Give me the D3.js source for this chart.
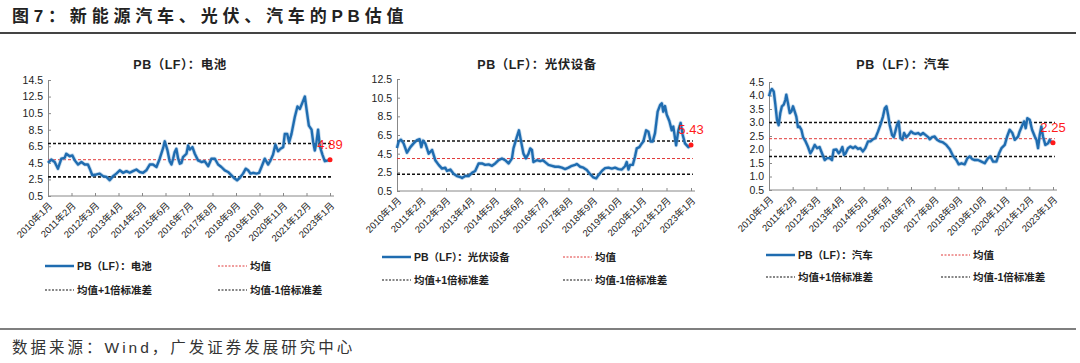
<!DOCTYPE html>
<html>
<head>
<meta charset="utf-8">
<script src="https://cdn.jsdelivr.net/npm/d3@7"></script>
<style>
  body { margin: 0; background: #fff; }
  svg { display: block; }
</style>
</head>
<body>
<div id="chart"></div>
<script>
// month offsets are counted from 2010年1月
const xTickMonths = [0, 13, 26, 39, 52, 65, 78, 91, 104, 117, 130, 143, 156];
const xTickLabels = ["2010年1月", "2011年2月", "2012年3月", "2013年4月", "2014年5月", "2015年6月",
  "2016年7月", "2017年8月", "2018年9月", "2019年10月", "2020年11月", "2021年12月", "2023年1月"];

// 电池
const batteryMonth = [0,1.8,3.7,5.5,7.4,9.2,10.1,12,13.5,14.8,16.6,18.5,20.3,22.1,23.1,24.5,26.8,28.6,30.4,32.3,
  34.1,36,37.8,39.7,41.5,43.4,45.2,47,48.9,50.7,52.6,54.4,56.3,58.1,60,61.8,63.7,64.6,66.1,67.3,
  68.3,69.2,70.1,71,72,72.9,73.8,74.7,76.6,77.5,78.4,79.9,81.2,83,84.9,86.7,88.6,90.4,92.3,94.1,
  95.9,97.8,99.6,101.5,103.3,104.6,106.1,107.9,109.4,110.7,112,113.5,115.3,116.8,118.1,119.9,121.8,123.1,124.5,125.8,
  127.3,128.6,130.1,131,132.3,133.4,134.7,136.5,138,139.3,140.8,142.1,143,144.3,145.8,146.7,147.6,148.5,149.4,150.4,
  151.8,153.1,155,156];
const batteryPB = [4.5,4.9,4.6,3.8,5.0,5.1,5.6,5.3,5.4,4.8,4.3,4.6,4.3,4.3,3.8,3.0,3.1,3.2,2.9,2.8,
  2.4,2.9,3.2,3.6,3.3,3.5,3.3,3.5,3.7,3.4,3.3,3.6,4.3,4.3,4.0,5.0,6.3,7.1,6.0,4.7,
  4.3,5.0,5.8,6.2,5.0,4.4,4.5,5.2,5.6,6.6,6.1,6.4,5.6,4.8,4.6,4.7,4.1,5.0,5.0,4.3,
  4.0,3.6,3.4,3.0,2.6,2.4,2.7,3.2,3.8,3.6,3.2,3.3,3.2,3.3,4.0,5.0,4.3,4.8,5.5,6.7,
  5.9,6.2,6.4,8.0,8.0,7.0,8.0,10.0,11.3,11.0,11.8,12.5,11.0,9.0,8.5,7.0,6.0,7.0,8.5,6.5,
  5.5,4.7,4.8,4.89];
const batteryRef = [6.84, 4.88, 2.81]; // 均值+1倍标准差, 均值, 均值-1倍标准差
const batteryTicks = [0.5, 2.5, 4.5, 6.5, 8.5, 10.5, 12.5, 14.5];

// 光伏设备
const solarMonth = [0,0.9,2.1,3.5,5.3,7.1,8.8,10.6,12,12.9,13.8,15,16.8,18.6,20.3,22.1,23.9,25.6,26.5,28.3,
  30,31.8,33.6,34.5,36.2,38,39.8,41.5,43.3,45.1,46.8,48.6,50.4,52.1,53.9,55.7,57.4,59.2,61,61.8,
  63.6,64.7,65.7,67.1,68.4,69.8,70.7,71.6,72.4,74.2,76,77.4,78.6,80.4,82.2,83.9,85.7,87.5,89.2,91,
  92.8,94.5,95.4,97.2,98.9,100.7,102.5,104.2,105.7,106.9,108.7,110.4,112.2,114,115.7,117.5,119.3,121,121.9,122.8,
  123.7,125.1,126.3,127.2,128.6,129.9,130.7,132.2,133.4,134.6,135.7,136.9,138.3,139.6,140.5,141.3,142.2,143.1,144.5,145.8,
  146.6,148.1,149.3,150.5,151.6,152.8,154.6,156];
const solarPB = [5.1,5.8,6.0,5.6,4.6,5.2,5.6,5.95,6.05,5.2,5.9,5.6,4.5,4.9,3.8,3.3,2.9,3.0,2.65,2.8,
  2.35,2.1,2.0,1.9,2.1,2.1,2.45,2.65,3.45,3.45,3.3,3.35,3.2,3.45,3.8,3.98,3.8,3.45,4.0,5.06,
  6.3,7.0,5.95,4.5,4.0,4.5,5.06,4.9,3.6,3.8,3.7,3.8,3.6,3.3,3.2,3.1,3.1,3.0,2.85,3.0,
  3.2,3.3,3.4,3.1,3.0,2.75,2.3,1.95,1.85,2.2,2.65,2.95,3.0,2.9,3.0,2.85,2.8,3.15,3.6,2.8,
  3.3,3.3,4.2,5.06,5.2,5.6,5.8,7.0,6.85,5.8,5.8,6.7,9.0,9.7,9.9,9.0,9.6,8.7,8.0,7.0,
  7.4,5.4,7.0,7.8,6.5,5.6,5.2,5.43];
const solarRef = [5.85, 3.98, 2.3];
const solarTicks = [0.5, 2.5, 4.5, 6.5, 8.5, 10.5, 12.5];

// 汽车
const autoMonth = [0,0.7,1.6,2.6,3.5,4.4,5.3,6.2,7.1,8.1,9,9.5,10.4,11.4,12.3,13.2,14.1,15,15.9,16.8,
  17.8,18.7,20.1,21.4,22.7,23.8,25.1,26.4,27.8,29.1,30.6,31.9,33.3,34.6,35.5,37,38.3,39.2,40.3,41.2,
  42.1,43.4,44.7,46.2,47.4,48.9,50.2,51.6,52.9,54.4,55.7,57.1,58.4,59.9,61.2,62.6,63.6,64.5,65.4,66.3,
  67.6,68.5,69.4,70.3,71.2,72.2,73.3,74.2,75.5,76.7,78,79.1,80.4,81.9,83.2,84.6,85.9,87.4,88.3,89.6,
  91,92.3,93.8,95.6,97.4,99.3,101.1,102.9,104.2,105.7,107.5,109,110.3,111.7,113,114.8,116.7,118.5,120.3,121.6,
  123.1,124.9,126.4,127.7,129.5,130.8,132.2,133.7,135,136.8,137.7,139.2,140.1,141,141.9,143.2,144.5,146,146.9,147.8,
  148.7,149.6,150.5,151.8,153.3,154.2,155.1,156];
const autoPB = [3.97,4.15,4.24,4.15,3.66,3.1,2.9,3.35,3.6,3.66,3.84,4.03,3.72,3.35,3.41,3.6,3.41,3.22,2.83,2.85,
  2.73,2.46,2.3,2.1,1.86,1.98,2.17,2.05,2.09,1.86,1.61,1.68,1.68,1.61,1.98,2.0,1.86,1.93,2.09,1.8,
  1.86,2.05,2.11,2.05,2.11,2.02,2.05,1.93,2.05,2.3,2.3,2.38,2.42,2.67,2.91,3.22,3.53,3.6,3.29,2.91,
  2.54,2.46,2.67,2.91,3.04,2.42,2.36,2.61,2.46,2.54,2.67,2.61,2.58,2.61,2.54,2.61,2.54,2.46,2.38,2.46,
  2.48,2.36,2.3,2.26,2.17,2.01,1.76,1.61,1.45,1.49,1.45,1.68,1.74,1.64,1.61,1.61,1.55,1.49,1.68,1.74,
  1.55,1.55,1.86,2.05,2.17,2.48,2.73,2.61,2.36,2.48,2.67,2.91,3.04,2.79,3.16,3.1,2.73,2.48,2.36,2.05,
  2.54,2.85,2.48,2.17,2.23,2.36,2.26,2.25];
const autoRef = [3.0, 2.4, 1.74];
const autoTicks = [0.5, 1.0, 1.5, 2.0, 2.5, 3.0, 3.5, 4.0, 4.5];

const W = 1080, H = 363;
const lineBlue = "#1f6cb0";
const fontLatin = "'Liberation Sans', Arial, 'Noto Sans CJK SC', sans-serif";

const svg = d3.select("#chart").append("svg")
  .attr("width", W)
  .attr("height", H)
  .style("font-family", fontLatin);

// header
svg.append("text")
  .attr("x", 12)
  .attr("y", 22)
  .attr("font-size", 17)
  .attr("font-weight", "bold")
  .attr("letter-spacing", 4.8)
  .attr("fill", "#222")
  .text("图7：新能源汽车、光伏、汽车的PB估值");

svg.append("line")
  .attr("x1", 0).attr("x2", 1076)
  .attr("y1", 33).attr("y2", 33)
  .attr("stroke", "#444").attr("stroke-width", 2);

// footer
svg.append("line")
  .attr("x1", 0).attr("x2", 1076)
  .attr("y1", 329).attr("y2", 329)
  .attr("stroke", "#555").attr("stroke-width", 1.5);

svg.append("text")
  .attr("x", 12)
  .attr("y", 353)
  .attr("font-size", 15.5)
  .attr("letter-spacing", 3)
  .attr("fill", "#333")
  .text("数据来源：Wind，广发证券发展研究中心");

const panels = [
  {name: "电池", month: batteryMonth, pb: batteryPB, ref: batteryRef, ticks: batteryTicks, fmt: ".1f",
   left: 48, right: 330, top: 80, bottom: 196, titleX: 180,
   legX: 45, legX2: 218, legY: 266, legY2: 290},
  {name: "光伏设备", month: solarMonth, pb: solarPB, ref: solarRef, ticks: solarTicks, fmt: ".1f",
   left: 397, right: 691, top: 79, bottom: 191, titleX: 537,
   legX: 382, legX2: 563, legY: 257, legY2: 280},
  {name: "汽车", month: autoMonth, pb: autoPB, ref: autoRef, ticks: autoTicks, fmt: ".1f",
   left: 769, right: 1053, top: 82, bottom: 190, titleX: 903,
   legX: 766, legX2: 941, legY: 255, legY2: 277}
];

panels.forEach(function(p) {
  const g = svg.append("g");

  const x = d3.scaleLinear().domain([0, 156]).range([p.left, p.right]);
  const y = d3.scaleLinear()
    .domain([p.ticks[0], p.ticks[p.ticks.length - 1]])
    .range([p.bottom, p.top]);

  // title
  g.append("text")
    .attr("x", p.titleX)
    .attr("y", 69)
    .attr("text-anchor", "middle")
    .attr("font-size", 12.5)
    .attr("font-weight", "bold")
    .attr("letter-spacing", 0.5)
    .attr("fill", "#222")
    .text("PB（LF）：" + p.name);

  // y axis
  const yAxis = g.append("g")
    .attr("transform", `translate(${p.left},0)`)
    .call(d3.axisLeft(y).tickValues(p.ticks).tickFormat(d3.format(p.fmt))
      .tickSize(-3).tickPadding(5));
  yAxis.select(".domain").attr("stroke", "#888");
  yAxis.selectAll(".tick line").attr("stroke", "#888");
  yAxis.selectAll("text")
    .attr("font-size", 10.5)
    .attr("fill", "#222")
    .style("font-family", fontLatin);

  // x axis
  const xAxis = g.append("g")
    .attr("transform", `translate(0,${p.bottom})`)
    .call(d3.axisBottom(x).tickValues(xTickMonths)
      .tickFormat(function(d, i) { return xTickLabels[i]; })
      .tickSize(-3).tickSizeOuter(0));
  xAxis.select(".domain").attr("d", `M${p.left},0H${p.right + 4}`).attr("stroke", "#888");
  xAxis.selectAll(".tick line").attr("stroke", "#888");
  xAxis.selectAll("text")
    .attr("font-size", 9.5)
    .attr("fill", "#222")
    .attr("text-anchor", "end")
    .attr("transform", "translate(2,8) rotate(-45)")
    .attr("x", 0)
    .attr("y", 0)
    .attr("dy", "0.35em")
    .style("font-family", fontLatin);

  // reference lines
  const xEnd = x(157);
  [0, 2].forEach(function(i) {
    g.append("line")
      .attr("x1", p.left).attr("x2", xEnd)
      .attr("y1", y(p.ref[i])).attr("y2", y(p.ref[i]))
      .attr("stroke", "#111")
      .attr("stroke-width", 1.6)
      .attr("stroke-dasharray", "3,2");
  });
  g.append("line")
    .attr("x1", p.left).attr("x2", xEnd)
    .attr("y1", y(p.ref[1])).attr("y2", y(p.ref[1]))
    .attr("stroke", "#e03a3a")
    .attr("stroke-width", 1)
    .attr("stroke-dasharray", "3,2");

  // series
  const pts = p.month.map(function(m, i) { return [m, p.pb[i]]; });
  const line = d3.line()
    .x(function(d) { return x(d[0]); })
    .y(function(d) { return y(d[1]); });

  g.append("path")
    .datum(pts)
    .attr("fill", "none")
    .attr("stroke", "#7fb0da")
    .attr("stroke-width", 4)
    .attr("stroke-linejoin", "round")
    .attr("opacity", 0.45)
    .attr("d", line);
  g.append("path")
    .datum(pts)
    .attr("fill", "none")
    .attr("stroke", lineBlue)
    .attr("stroke-width", 2.4)
    .attr("stroke-linejoin", "round")
    .attr("d", line);

  // last value
  const last = pts[pts.length - 1];
  g.append("circle")
    .attr("cx", x(last[0]))
    .attr("cy", y(last[1]))
    .attr("r", 2.5)
    .attr("fill", "#ff1a1a");
  g.append("text")
    .attr("x", x(last[0]))
    .attr("y", y(last[1]) - 11)
    .attr("text-anchor", "middle")
    .attr("font-size", 13)
    .attr("fill", "#ff1a1a")
    .text(d3.format(".2f")(last[1]));

  // legend
  const lw = 29;
  const leg = [
    {x: p.legX, y: p.legY, label: "PB（LF）：" + p.name, type: "series"},
    {x: p.legX2, y: p.legY, label: "均值", type: "mean"},
    {x: p.legX, y: p.legY2, label: "均值+1倍标准差", type: "band"},
    {x: p.legX2, y: p.legY2, label: "均值-1倍标准差", type: "band"}
  ];
  leg.forEach(function(l) {
    const s = g.append("line")
      .attr("x1", l.x).attr("x2", l.x + lw)
      .attr("y1", l.y).attr("y2", l.y);
    if (l.type === "series") {
      s.attr("stroke", lineBlue).attr("stroke-width", 2.5);
    } else if (l.type === "mean") {
      s.attr("stroke", "#e03a3a").attr("stroke-width", 1).attr("stroke-dasharray", "2,1.5");
    } else {
      s.attr("stroke", "#111").attr("stroke-width", 1.2).attr("stroke-dasharray", "2,1.5");
    }
    g.append("text")
      .attr("x", l.x + lw + 3)
      .attr("y", l.y + 4)
      .attr("font-size", 10.5)
      .attr("font-weight", "bold")
      .attr("fill", "#222")
      .text(l.label);
  });
});
</script>
</body>
</html>
